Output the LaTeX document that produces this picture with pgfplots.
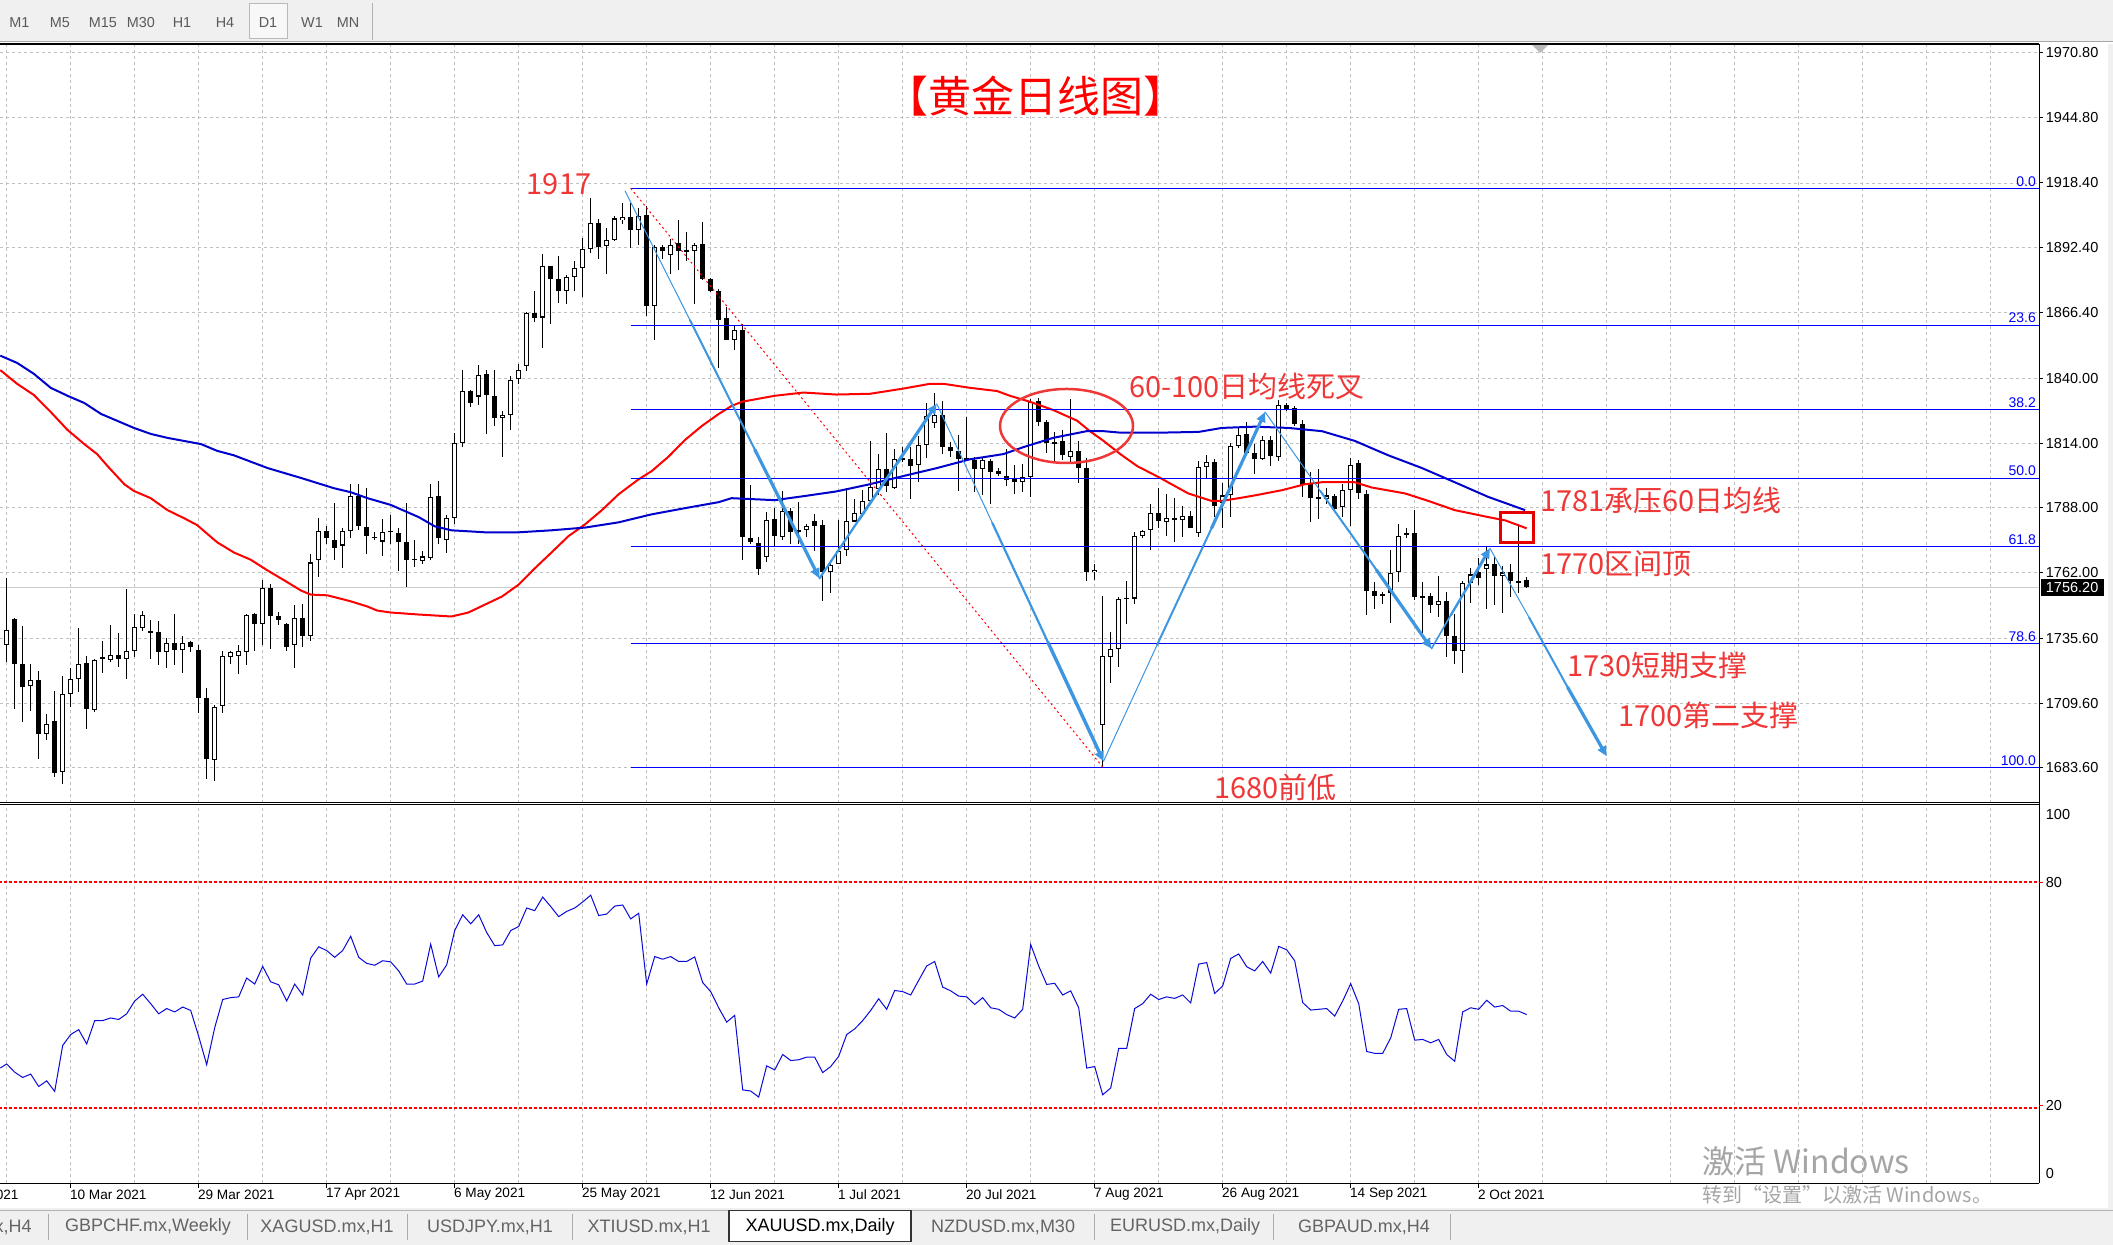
\documentclass[border=0pt]{standalone}
\usepackage{fontspec}
\setmainfont{Liberation Sans}
\newfontfamily\cjk{Noto Sans CJK SC}
\usepackage{pgfplots}
\pgfplotsset{compat=1.18}
\usepackage{pgfplotstable}
\usetikzlibrary{arrows.meta}
\definecolor{gridgray}{RGB}{192,192,192}
\definecolor{panelgray}{RGB}{240,240,240}
\definecolor{maRed}{RGB}{255,0,0}
\definecolor{maBlue}{RGB}{0,0,205}
\definecolor{fibBlue}{RGB}{0,0,255}
\definecolor{arrowBlue}{RGB}{60,150,225}
\definecolor{noteRed}{RGB}{240,55,55}
\definecolor{rsiBlue}{RGB}{10,10,215}
\definecolor{tabText}{RGB}{100,100,100}
\definecolor{tbText}{RGB}{90,90,90}
\definecolor{wmGray}{RGB}{165,165,165}

\pgfplotstableread{
k o h l c
0 1733.1 1760.0 1726.3 1739.0
1 1743.5 1743.9 1707.3 1725.3
2 1725.3 1740.6 1702.1 1716.2
3 1716.6 1725.3 1706.5 1718.9
4 1718.9 1722.6 1687.2 1697.3
5 1697.3 1705.4 1694.7 1701.2
6 1702.5 1714.5 1679.9 1681.5
7 1682.0 1720.5 1677.0 1713.4
8 1713.4 1723.7 1708.1 1719.4
9 1719.4 1739.9 1714.2 1725.3
10 1725.8 1728.6 1699.2 1707.3
11 1707.0 1727.5 1706.0 1726.9
12 1727.8 1734.7 1721.8 1727.5
13 1726.9 1741.1 1726.3 1728.9
14 1728.9 1737.9 1724.2 1727.2
15 1727.4 1755.6 1719.4 1730.5
16 1730.7 1745.5 1728.2 1740.2
17 1739.9 1746.8 1738.7 1745.2
18 1738.2 1743.1 1727.4 1738.0
19 1738.2 1742.7 1725.0 1730.2
20 1730.2 1735.9 1723.9 1733.7
21 1733.7 1745.5 1725.0 1731.0
22 1731.0 1736.6 1721.8 1733.7
23 1734.2 1734.7 1730.2 1732.1
24 1731.1 1733.1 1705.7 1711.8
25 1711.8 1715.7 1679.1 1687.2
26 1686.8 1708.9 1678.3 1708.1
27 1708.4 1730.7 1705.7 1728.6
28 1728.2 1730.7 1725.3 1730.3
29 1728.6 1733.1 1721.3 1730.7
30 1730.2 1745.5 1725.0 1745.2
31 1745.5 1745.8 1730.7 1741.5
32 1741.5 1758.9 1733.1 1755.9
33 1755.9 1757.6 1731.5 1744.7
34 1744.7 1746.3 1741.1 1743.1
35 1741.6 1741.8 1730.7 1732.3
36 1732.8 1749.2 1723.7 1743.9
37 1743.9 1749.5 1732.3 1736.6
38 1736.6 1769.3 1734.4 1766.1
39 1766.9 1783.8 1760.2 1778.7
40 1778.7 1780.6 1773.4 1776.1
41 1775.3 1789.8 1766.9 1772.1
42 1772.9 1780.1 1763.7 1778.7
43 1778.7 1797.5 1775.8 1792.7
44 1792.7 1797.5 1779.0 1780.6
45 1780.5 1795.9 1769.3 1776.6
46 1776.3 1778.5 1775.0 1776.1
47 1774.5 1783.4 1768.8 1778.5
48 1778.5 1785.0 1773.4 1778.7
49 1777.9 1780.1 1762.6 1774.2
50 1774.2 1789.8 1756.1 1767.2
51 1767.2 1775.0 1764.2 1767.4
52 1766.6 1770.5 1765.3 1768.5
53 1767.7 1797.5 1766.9 1792.4
54 1792.7 1798.8 1773.4 1775.8
55 1775.0 1785.0 1770.1 1783.8
56 1783.8 1818.2 1781.7 1814.0
57 1814.0 1843.5 1812.4 1834.9
58 1834.9 1835.2 1828.5 1830.1
59 1832.7 1845.4 1829.4 1841.4
60 1841.8 1843.5 1817.7 1833.3
61 1833.0 1843.5 1820.9 1824.1
62 1824.1 1827.0 1808.5 1825.4
63 1825.4 1841.0 1819.3 1839.4
64 1839.7 1845.9 1837.8 1843.5
65 1844.8 1866.6 1843.1 1866.3
66 1866.3 1874.9 1862.8 1864.4
67 1864.4 1889.9 1852.3 1885.0
68 1885.0 1885.3 1861.7 1880.0
69 1880.0 1889.1 1870.1 1875.2
70 1875.2 1881.6 1869.7 1880.8
71 1880.5 1887.0 1874.9 1884.2
72 1884.2 1896.2 1872.5 1891.8
73 1891.8 1912.3 1890.5 1902.3
74 1902.3 1903.9 1887.8 1892.9
75 1893.1 1900.3 1881.7 1895.5
76 1895.5 1905.2 1895.0 1904.2
77 1903.6 1910.3 1901.9 1904.7
78 1904.7 1910.3 1892.3 1899.4
79 1899.4 1908.4 1893.4 1905.2
80 1905.5 1909.1 1864.9 1868.9
81 1868.9 1893.4 1855.2 1892.9
82 1892.9 1893.4 1887.8 1891.0
83 1889.4 1895.8 1881.7 1893.4
84 1894.2 1903.6 1883.3 1891.0
85 1891.0 1898.7 1887.0 1891.2
86 1891.0 1894.2 1869.7 1893.4
87 1893.9 1902.8 1879.4 1879.7
88 1880.0 1880.3 1874.6 1874.9
89 1874.9 1875.7 1844.3 1863.6
90 1864.4 1868.8 1855.2 1855.5
91 1855.5 1861.2 1851.2 1859.6
92 1859.6 1862.0 1767.2 1776.3
93 1776.1 1797.1 1773.4 1774.2
94 1773.8 1776.3 1760.9 1763.4
95 1768.2 1786.3 1766.1 1783.0
96 1783.4 1787.9 1772.6 1776.9
97 1776.3 1794.6 1775.3 1786.7
98 1786.7 1787.9 1773.4 1778.5
99 1778.5 1790.3 1773.4 1779.0
100 1779.0 1781.4 1776.3 1780.6
101 1782.7 1785.4 1770.9 1780.6
102 1781.1 1783.0 1750.8 1762.1
103 1762.4 1767.2 1753.7 1765.0
104 1765.6 1783.0 1765.3 1770.6
105 1770.9 1795.9 1768.8 1782.7
106 1782.5 1791.4 1782.2 1785.9
107 1785.4 1795.1 1784.9 1790.8
108 1790.8 1814.9 1789.2 1796.4
109 1795.6 1809.6 1793.0 1803.7
110 1803.7 1818.2 1794.3 1796.7
111 1795.9 1811.7 1795.6 1807.7
112 1807.5 1812.4 1806.4 1807.7
113 1807.5 1812.4 1791.4 1804.8
114 1805.1 1816.9 1798.3 1813.2
115 1813.2 1830.1 1808.0 1824.9
116 1822.2 1834.3 1820.1 1825.4
117 1825.4 1831.1 1809.6 1812.4
118 1812.4 1814.5 1808.5 1810.7
119 1810.7 1817.4 1794.6 1807.7
120 1807.5 1824.6 1806.9 1807.7
121 1807.2 1808.5 1794.3 1803.7
122 1803.7 1808.5 1793.0 1807.2
123 1806.9 1807.5 1789.5 1802.4
124 1802.7 1804.0 1800.8 1801.6
125 1800.8 1811.7 1796.7 1799.1
126 1799.5 1805.3 1793.5 1798.3
127 1798.3 1805.6 1794.3 1800.4
128 1800.4 1831.7 1792.4 1830.6
129 1830.9 1832.2 1820.9 1822.5
130 1822.5 1823.3 1810.1 1814.0
131 1814.2 1818.5 1806.9 1814.0
132 1814.8 1819.3 1807.2 1809.1
133 1808.5 1831.9 1806.4 1810.7
134 1810.7 1814.9 1797.9 1804.0
135 1804.0 1808.0 1758.5 1762.1
136 1762.1 1765.6 1758.9 1763.2
137 1700.8 1752.7 1683.6 1728.6
138 1728.2 1738.2 1717.8 1731.5
139 1731.5 1752.1 1724.2 1751.6
140 1751.6 1758.5 1741.5 1751.8
141 1751.6 1778.2 1749.5 1776.6
142 1776.6 1779.0 1775.8 1778.7
143 1779.0 1789.5 1770.9 1785.8
144 1785.9 1795.9 1779.8 1782.7
145 1782.5 1793.5 1776.9 1783.8
146 1783.8 1791.9 1774.2 1783.6
147 1783.0 1788.7 1776.3 1784.6
148 1784.9 1786.6 1779.8 1780.1
149 1777.9 1806.9 1776.3 1804.3
150 1804.3 1809.1 1799.9 1806.4
151 1806.4 1807.5 1784.3 1788.7
152 1789.8 1797.9 1779.8 1793.0
153 1793.0 1814.0 1784.3 1812.8
154 1812.8 1820.1 1812.0 1817.2
155 1817.7 1822.5 1809.8 1810.0
156 1810.0 1813.6 1801.6 1807.5
157 1807.5 1816.9 1807.2 1815.3
158 1815.3 1816.9 1804.8 1808.8
159 1808.5 1831.4 1806.9 1829.3
160 1829.3 1830.1 1826.9 1827.7
161 1828.1 1828.9 1820.9 1821.7
162 1821.7 1823.3 1792.4 1797.2
163 1797.5 1802.4 1782.2 1791.9
164 1791.9 1803.7 1783.4 1792.1
165 1791.4 1795.9 1789.5 1793.0
166 1792.7 1793.5 1787.1 1787.5
167 1788.2 1797.5 1784.3 1795.1
168 1795.1 1808.0 1780.6 1805.3
169 1805.9 1807.2 1791.4 1794.0
170 1793.5 1795.1 1745.2 1754.8
171 1754.8 1758.1 1747.6 1752.7
172 1753.2 1754.3 1749.5 1753.0
173 1754.0 1770.9 1741.9 1761.8
174 1762.1 1781.4 1758.1 1776.9
175 1777.7 1780.1 1775.8 1777.5
176 1777.9 1787.1 1751.1 1752.1
177 1752.1 1758.1 1737.9 1752.7
178 1752.7 1754.0 1746.0 1748.9
179 1748.9 1760.8 1744.4 1750.8
180 1750.8 1754.3 1728.2 1736.6
181 1736.6 1745.6 1725.3 1730.7
182 1730.7 1758.5 1721.8 1758.0
183 1758.0 1764.0 1750.0 1761.3
184 1762.1 1767.7 1757.2 1760.0
185 1763.4 1772.6 1747.6 1765.3
186 1765.3 1768.5 1748.9 1760.8
187 1760.8 1764.5 1746.0 1762.1
188 1762.1 1765.3 1752.1 1758.5
189 1758.5 1781.4 1754.0 1758.3
190 1758.9 1760.1 1756.0 1756.2
}\candles

\pgfplotstableread{
k r
-0.8 30.6
0 31.7
1 29.5
2 28.1
3 29.0
4 25.7
5 27.2
6 24.4
7 36.6
8 39.5
9 40.8
10 37.0
11 43.2
12 43.2
13 43.9
14 43.5
15 45.0
16 48.4
17 50.2
18 47.7
19 45.0
20 46.4
21 45.5
22 46.8
23 45.9
24 39.0
25 31.5
26 41.3
27 48.8
28 49.3
29 49.5
30 54.5
31 52.9
32 57.6
33 53.5
34 52.7
35 48.4
36 52.9
37 50.0
38 59.8
39 62.8
40 61.8
41 60.0
42 61.8
43 65.6
44 60.0
45 58.4
46 57.9
47 59.1
48 58.8
49 56.4
50 52.9
51 52.9
52 53.7
53 63.5
54 54.8
55 58.0
56 67.1
57 71.3
58 68.9
59 71.3
60 66.6
61 63.1
62 63.3
63 67.1
64 68.2
65 73.1
66 72.4
67 76.0
68 73.5
69 70.8
70 72.2
71 73.1
72 74.7
73 76.5
74 71.1
75 71.5
76 73.6
77 73.9
78 70.2
79 71.7
80 52.9
81 60.2
82 59.5
83 60.2
84 58.9
85 58.9
86 60.1
87 53.3
88 50.9
89 46.6
90 42.8
91 44.6
92 24.8
93 24.5
94 22.9
95 31.2
96 30.1
97 34.2
98 32.6
99 32.8
100 33.5
101 33.5
102 29.4
103 31.0
104 33.7
105 39.5
106 41.0
107 43.2
108 45.9
109 49.0
110 46.2
111 51.2
112 50.9
113 50.0
114 53.9
115 57.7
116 58.9
117 52.1
118 51.1
119 49.7
120 49.5
121 47.5
122 49.3
123 46.6
124 46.2
125 44.8
126 43.9
127 46.2
128 63.4
129 57.7
130 52.8
131 53.1
132 50.0
133 51.1
134 46.6
135 30.6
136 31.0
137 23.5
138 25.3
139 35.8
140 35.8
141 46.4
142 47.7
143 50.2
144 48.8
145 49.5
146 49.1
147 50.0
148 47.9
149 58.2
150 58.6
151 50.4
152 52.4
153 59.7
154 60.9
155 57.5
156 56.4
157 58.9
158 55.8
159 62.9
160 62.0
161 59.1
162 48.0
163 46.0
164 46.2
165 46.4
166 44.4
167 48.4
168 53.0
169 47.7
170 35.0
171 34.5
172 34.5
173 38.6
174 46.2
175 46.4
176 38.0
177 38.2
178 37.3
179 38.2
180 34.2
181 32.4
182 45.5
183 46.6
184 46.2
185 48.6
186 46.8
187 47.2
188 45.7
189 45.7
190 44.8
}\rsi

\begin{document}
\begin{tikzpicture}
\path[use as bounding box] (0pt,0pt) rectangle (1056.5pt,622.5pt);
\clip (0pt,0pt) rectangle (1056.5pt,622.5pt);
\fill[white] (0pt,0pt) rectangle (1056.5pt,622.5pt);

% ---------------- main price panel ----------------
\begin{axis}[
  at={(0pt,221.15pt)}, anchor=south west, scale only axis,
  width=1019.5pt, height=379.35pt,
  xmin=-0.8375, xmax=254.04, ymin=1669.67, ymax=1974.21,
  axis line style={draw=none}, tick style={draw=none},
  xtick={0,8,...,248},
  ytick={1683.6,1709.6,1735.6,1762,1788,1814,1840,1866.4,1892.4,1918.4,1944.8,1970.8},
  xticklabel={\mbox{}}, yticklabel={\mbox{}},
  grid=major,
  major grid style={draw=gridgray, line width=0.5pt, dash pattern=on 1.5pt off 1.5pt},
  clip=true,
]
\addplot[gray!40, line width=0.5pt] coordinates {(-1,1756.2) (255,1756.2)};
% wicks
\addplot[draw=none, mark=none,
  error bars/.cd, y dir=both, y explicit, error mark=none,
  error bar style={draw=black, solid, line width=0.5pt}]
  table[x=k, y expr={(\thisrow{h}+\thisrow{l})/2}, y error expr={(\thisrow{h}-\thisrow{l})/2}] {\candles};
% bodies
\addplot[draw=none, mark=none,
  error bars/.cd, y dir=both, y explicit, error mark=none,
  error bar style={draw=black, solid, line width=2.5pt}]
  table[x=k, y expr={(\thisrow{o}+\thisrow{c})/2}, y error expr={max(abs(\thisrow{o}-\thisrow{c})/2,0.3)}] {\candles};
% bullish interiors
\addplot[draw=none, mark=none,
  error bars/.cd, y dir=both, y explicit, error mark=none,
  error bar style={draw=white, solid, line width=1.5pt}]
  table[x=k, y expr={(\thisrow{o}+\thisrow{c})/2}, y error expr={(\thisrow{c}>\thisrow{o}) ? max((\thisrow{c}-\thisrow{o})/2-0.45,0) : 0}] {\candles};

% MA 60 (red)
\addplot[maRed, line width=1pt] coordinates {
(-0.8,1843.3) (1.3,1837.8) (3.4,1833.3) (5.5,1826.5) (7.6,1819.3) (9.7,1813.6) (11.3,1809.6) (12.6,1804.8)
(14.7,1797.5) (15.9,1794.8) (18,1791.9) (20.1,1787.1) (22.2,1783.8) (23.8,1781.1) (26.3,1774.2) (28.4,1770.1)
(30.5,1767.2) (32.6,1762.9) (34.7,1758.9) (36.8,1754.8) (38,1753.2) (40.1,1752.9) (43,1750.5) (45.1,1748.4)
(46.3,1746.8) (48,1746.0) (51.5,1745.2) (55.6,1744.4) (57.7,1746.0) (59.8,1749.2) (61.9,1752.4) (64,1757.2)
(66,1763.7) (68.1,1770.1) (70.2,1776.6) (72.3,1781.4) (74.4,1787.1) (76.5,1793.5) (79,1799.5) (80.6,1802.7)
(82.7,1808.5) (84.8,1815.3) (86.9,1820.9) (89,1825.7) (90.6,1828.9) (91.9,1830.6) (96,1833.0) (99.6,1834.3)
(103.7,1833.5) (107.9,1833.8) (112.1,1835.9) (115.4,1837.8) (117.1,1837.8) (120.4,1836.2) (123.8,1834.9)
(125.4,1833.0) (127.9,1830.6) (130.8,1827.3) (133.8,1823.0) (135.4,1818.8) (137.1,1814.9) (139.2,1809.6)
(141.3,1804.8) (144.2,1800.0) (145.6,1797.5) (147.7,1793.8) (150.6,1790.8) (151.9,1790.8) (154,1791.9)
(156,1793.0) (159.4,1795.1) (162.3,1797.5) (164.4,1798.3) (168.5,1798.3) (170.6,1796.2) (174.8,1793.8)
(177.7,1790.8) (181,1787.1) (185.2,1784.3) (187.3,1783.0) (190,1779.8)};
% MA 100 (blue)
\addplot[maBlue, line width=1pt] coordinates {
(-0.8,1849.1) (1.3,1846.2) (3.4,1841.8) (5.5,1836.2) (7.6,1833.0) (9.7,1830.1) (11.8,1825.7) (15.9,1820.1)
(18,1817.7) (20.1,1816.1) (24.3,1813.6) (26.3,1810.9) (28.4,1809.1) (32.6,1804.0) (36.8,1800.0) (40.9,1795.9)
(43,1794.3) (45.1,1791.9) (48,1789.2) (51.5,1784.3) (53.5,1780.6) (55.6,1779.0) (59.8,1778.2) (64,1778.2)
(68.1,1779.0) (72.3,1780.1) (76.5,1782.2) (80.6,1785.4) (84.8,1787.9) (89,1790.3) (90.6,1791.9) (96,1791.1)
(99.6,1792.7) (103.7,1794.6) (107.9,1797.5) (112.1,1800.8) (116.3,1804.0) (120.4,1807.5) (124.6,1809.6)
(127.1,1812.4) (130.8,1816.1) (135,1818.8) (137.1,1818.8) (139.2,1818.2) (144.2,1818.2) (149,1818.5)
(151.9,1820.1) (156,1820.6) (160.2,1820.1) (164.4,1818.8) (168.5,1814.9) (172.7,1809.1) (176.9,1804.0)
(181,1798.3) (185.2,1792.4) (189.8,1787.1)};

% Fibonacci levels
\addplot[fibBlue, line width=0.5pt] coordinates {(78,1916.3) (255,1916.3)};
\addplot[fibBlue, line width=0.5pt] coordinates {(78,1861.4) (255,1861.4)};
\addplot[fibBlue, line width=0.5pt] coordinates {(78,1827.4) (255,1827.4)};
\addplot[fibBlue, line width=0.5pt] coordinates {(78,1799.95) (255,1799.95)};
\addplot[fibBlue, line width=0.5pt] coordinates {(78,1772.5) (255,1772.5)};
\addplot[fibBlue, line width=0.5pt] coordinates {(78,1733.4) (255,1733.4)};
\addplot[fibBlue, line width=0.5pt] coordinates {(78,1683.6) (255,1683.6)};
\addplot[maRed, line width=0.5pt, dash pattern=on 1pt off 1.5pt] coordinates {(78,1916.3) (137.1,1683.6)};

\begin{scope}[every node/.style={anchor=south east, inner sep=0.8pt, text=fibBlue, font=\fontsize{7}{8}\selectfont}]
\node at (axis cs:253.9,1916.3) {0.0};
\node at (axis cs:253.9,1861.4) {23.6};
\node at (axis cs:253.9,1827.4) {38.2};
\node at (axis cs:253.9,1799.95) {50.0};
\node at (axis cs:253.9,1772.5) {61.8};
\node at (axis cs:253.9,1733.4) {78.6};
\node at (axis cs:253.9,1683.6) {100.0};
\end{scope}

% wave arrows (tapered)
\addplot[arrowBlue, line width=0.5pt, line cap=round] coordinates {(77.3,1915.2) (85.4,1863.4)};
\addplot[arrowBlue, line width=1pt, line cap=round] coordinates {(85.4,1863.4) (93.5,1811.5)};
\addplot[arrowBlue, line width=1.6pt, -{Triangle[length=5pt,width=4.5pt]}] coordinates {(93.5,1811.5) (101.6,1759.7)};

\addplot[arrowBlue, line width=1.1pt, line cap=round] coordinates {(101.6,1759.7) (106.5,1783.1)};
\addplot[arrowBlue, line width=1.4pt, line cap=round] coordinates {(106.5,1783.1) (111.4,1806.4)};
\addplot[arrowBlue, line width=1.6pt, -{Triangle[length=5pt,width=4.5pt]}] coordinates {(111.4,1806.4) (116.25,1829.8)};

\addplot[arrowBlue, line width=0.5pt, line cap=round] coordinates {(116.25,1829.8) (123.2,1782.0)};
\addplot[arrowBlue, line width=1.1pt, line cap=round] coordinates {(123.2,1782.0) (130.15,1734.1)};
\addplot[arrowBlue, line width=1.7pt, -{Triangle[length=5pt,width=4.5pt]}] coordinates {(130.15,1734.1) (137.1,1686.3)};

\addplot[arrowBlue, line width=0.5pt, line cap=round] coordinates {(137.1,1686.3) (143.8,1733.0)};
\addplot[arrowBlue, line width=1pt, line cap=round] coordinates {(143.8,1733.0) (150.6,1779.8)};
\addplot[arrowBlue, line width=1.6pt, -{Triangle[length=5pt,width=4.5pt]}] coordinates {(150.6,1779.8) (157.3,1826.5)};

\addplot[arrowBlue, line width=0.5pt, line cap=round] coordinates {(157.3,1826.5) (164.2,1794.8)};
\addplot[arrowBlue, line width=1pt, line cap=round] coordinates {(164.2,1794.8) (171.2,1763.2)};
\addplot[arrowBlue, line width=1.6pt, -{Triangle[length=5pt,width=4.5pt]}] coordinates {(171.2,1763.2) (178.1,1731.5)};

\addplot[arrowBlue, line width=0.8pt, line cap=round] coordinates {(178.1,1731.5) (180.5,1744.9)};
\addplot[arrowBlue, line width=1.2pt, line cap=round] coordinates {(180.5,1744.9) (183.0,1758.4)};
\addplot[arrowBlue, line width=1.5pt, -{Triangle[length=5pt,width=4.5pt]}] coordinates {(183.0,1758.4) (185.4,1771.8)};

\addplot[arrowBlue, line width=0.5pt, line cap=round] coordinates {(185.4,1771.8) (190.3,1744.0)};
\addplot[arrowBlue, line width=1pt, line cap=round] coordinates {(190.3,1744.0) (195.1,1716.1)};
\addplot[arrowBlue, line width=1.6pt, -{Triangle[length=5pt,width=4.5pt]}] coordinates {(195.1,1716.1) (200,1688.3)};
\end{axis}

% ---------------- RSI panel ----------------
\begin{axis}[
  at={(0pt,30.85pt)}, anchor=south west, scale only axis,
  width=1019.5pt, height=188.3pt,
  xmin=-0.8375, xmax=254.04, ymin=0, ymax=100,
  axis line style={draw=none}, tick style={draw=none},
  xtick={0,8,...,248}, ytick=\empty,
  xticklabel={\mbox{}},
  xmajorgrids=true, ymajorgrids=false,
  major grid style={draw=gridgray, line width=0.5pt, dash pattern=on 1.5pt off 1.5pt},
  clip=true,
]
\addplot[maRed, line width=0.75pt, dash pattern=on 1.5pt off 1pt] coordinates {(-1,80) (255,80)};
\addplot[maRed, line width=0.75pt, dash pattern=on 1.5pt off 1pt] coordinates {(-1,20) (255,20)};
\addplot[rsiBlue, line width=0.5pt] table[x=k, y=r] {\rsi};
\end{axis}

% ---------------- frame, labels and annotations (pixel coordinates) ----------------
\begin{scope}[shift={(0pt,622.5pt)}, x=0.5pt, y=-0.5pt]
% toolbar
\fill[panelgray] (0,0) rectangle (2113,41);
\draw[gray!70, line width=0.75pt] (0,41.3) -- (2113,41.3);
\draw[black, line width=0.75pt] (0,43.8) -- (2039.3,43.8);
\filldraw[fill=white!55!panelgray, draw=gray!55, line width=0.5pt] (249,3.5) rectangle (287,39);
\draw[gray!60, line width=0.5pt] (372,3) -- (372,40);
\begin{scope}[every node/.style={text=tbText, font=\fontsize{7.2}{8}\selectfont, inner sep=0}]
\node at (19.5,22.7) {M1};
\node at (60,22.7) {M5};
\node at (103,22.7) {M15};
\node at (141,22.7) {M30};
\node at (182,22.7) {H1};
\node at (225,22.7) {H4};
\node at (268,22.7) {D1};
\node at (312,22.7) {W1};
\node at (348,22.7) {MN};
\end{scope}
% chart shift marker
\fill[gray!55] (1532,45) -- (1548,45) -- (1540,53) -- cycle;

% right axis, separators
\fill[panelgray] (2108,44) rectangle (2113,1208);
\draw[black, line width=0.75pt] (2039.3,43.8) -- (2039.3,1183.3);
\draw[black, line width=0.5pt] (0,802.7) -- (2039.3,802.7);
\draw[black, line width=0.5pt] (0,804.7) -- (2039.3,804.7);
\draw[black, line width=0.75pt] (0,1183.3) -- (2039.3,1183.3);

% price labels
\foreach \yy/\tt in {52.5/1970.80, 117.3/1944.80, 183.0/1918.40, 247.8/1892.40, 312.6/1866.40, 378.4/1840.00,
  443.1/1814.00, 507.9/1788.00, 572.7/1762.00, 638.4/1735.60, 703.2/1709.60, 768.0/1683.60} {
  \draw[black, line width=0.5pt] (2039.3,\yy) -- (2043,\yy);
  \node[anchor=west, inner sep=0, font=\fontsize{7.25}{8}\selectfont] at (2045.5,\yy) {\tt};
}
\fill[black] (2041,579) rectangle (2104,596);
\node[anchor=west, inner sep=0, text=white, font=\fontsize{7.25}{8}\selectfont] at (2045.5,587.5) {1756.20};

% RSI labels
\foreach \yy/\tt in {815/100, 882.7/80, 1106/20, 1173.8/0} {
  \node[anchor=west, inner sep=0, font=\fontsize{7.25}{8}\selectfont] at (2045.5,\yy) {\tt};
}
\draw[maRed, line width=0.5pt] (2039.3,882.7) -- (2043,882.7);
\draw[maRed, line width=0.5pt] (2039.3,1106) -- (2043,1106);

% date labels
\foreach \xx/\tt in {-57.3/19 Feb 2021, 70.7/10 Mar 2021, 198.7/29 Mar 2021, 326.7/17 Apr 2021, 454.7/6 May 2021,
  582.7/25 May 2021, 710.7/12 Jun 2021, 838.7/1 Jul 2021, 966.7/20 Jul 2021, 1094.7/7 Aug 2021,
  1222.7/26 Aug 2021, 1350.7/14 Sep 2021, 1478.7/2 Oct 2021} {
  \draw[black, line width=0.5pt] (\xx,1183.3) -- (\xx,1188);
  \node[anchor=west, inner sep=0, font=\fontsize{6.8}{8}\selectfont] at (\xx-1,1194.5) {\tt};
}

% tab bar
\fill[panelgray] (0,1208) rectangle (2113,1245);
\draw[gray!60, line width=0.5pt] (0,1210.5) -- (2113,1210.5);
\filldraw[fill=white, draw=black!80, line width=0.6pt] (729,1210.5) rectangle (911,1241.5);
\foreach \xx in {48,247,407,572,1094,1273,1450} {
  \draw[gray!65, line width=0.5pt] (\xx,1214) -- (\xx,1240);
}
\begin{scope}[every node/.style={text=tabText, inner sep=0, font=\fontsize{9}{10}\selectfont}]
\node[anchor=east] at (32,1227) {AUDUSD.mx,H4};
\node at (148,1227) {GBPCHF.mx,Weekly};
\node at (327,1227) {XAGUSD.mx,H1};
\node at (490,1227) {USDJPY.mx,H1};
\node at (649,1227) {XTIUSD.mx,H1};
\node[text=black] at (820,1227) {XAUUSD.mx,Daily};
\node at (1003,1227) {NZDUSD.mx,M30};
\node at (1185,1227) {EURUSD.mx,Daily};
\node at (1364,1227) {GBPAUD.mx,H4};
\end{scope}

% annotations
\node[text=red, font=\cjk\fontsize{21.5}{24}\selectfont] at (1036,95.7) {【黄金日线图】};
\begin{scope}[every node/.style={text=noteRed, font=\cjk\fontsize{14.5}{16}\selectfont}]
\node at (559,184.6) {1917};
\node[anchor=west, inner sep=0] at (1129,386.8) {60-100日均线死叉};
\node[anchor=west, inner sep=0] at (1540,500) {1781承压60日均线};
\node[anchor=west, inner sep=0] at (1540,564) {1770区间顶};
\node[anchor=west, inner sep=0] at (1567,666) {1730短期支撑};
\node[anchor=west, inner sep=0] at (1618,715) {1700第二支撑};
\node[anchor=west, inner sep=0] at (1214,787) {1680前低};
\end{scope}
\draw[noteRed, line width=1.25pt] (1066.5,426) ellipse [x radius=66.5, y radius=37];
\draw[red!90!black, line width=1.5pt] (1500.7,513) rectangle (1533.3,543);

% watermark
\node[anchor=west, inner sep=0, text=wmGray, font=\cjk\fontsize{16}{18}\selectfont] at (1702,1161) {激活 Windows};
\node[anchor=west, inner sep=0, text=wmGray, font=\cjk\fontsize{10}{12}\selectfont] at (1702,1195) {转到“设置”以激活 Windows。};
\end{scope}
\end{tikzpicture}
\end{document}
